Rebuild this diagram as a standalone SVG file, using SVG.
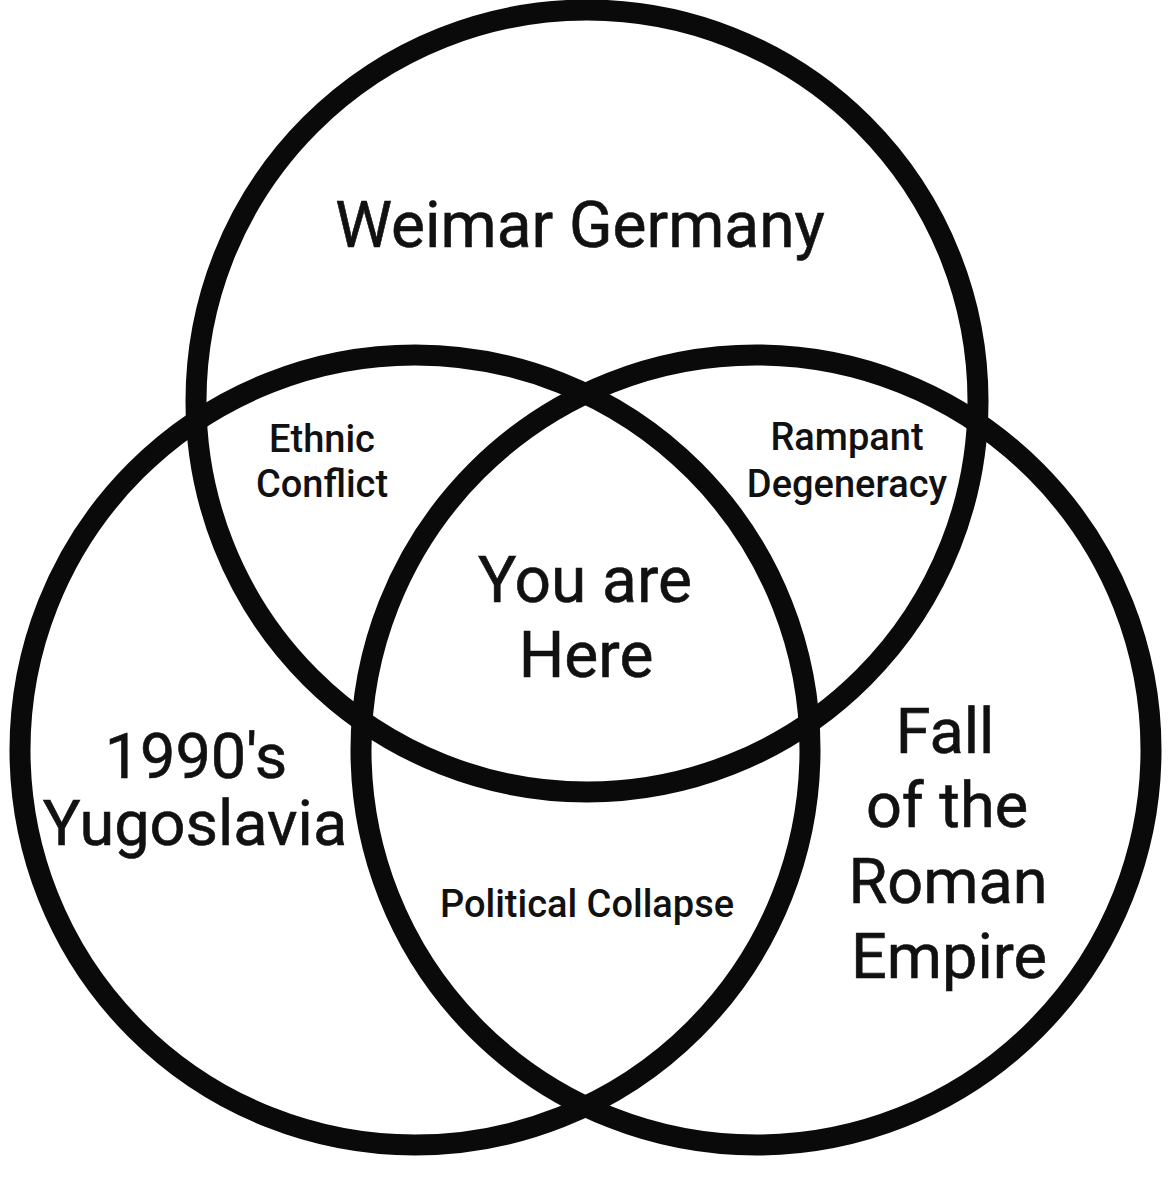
<svg xmlns="http://www.w3.org/2000/svg" width="1170" height="1188" viewBox="0 0 1170 1188">
<style>
.c{fill:none;stroke:#0a0a0a;stroke-width:21}
text{font-family:Roboto,"Liberation Sans",sans-serif;fill:#111;text-anchor:middle}
.big{font-size:64px;stroke:#111;stroke-width:0.6}
.mid{font-size:63px;stroke:#111;stroke-width:0.6}
.sm{font-size:38px;font-weight:500}
</style>
<rect width="1170" height="1188" fill="#ffffff"/>
<g id="connectors"/>
<g id="circle-weimar"><circle class="c" cx="587" cy="401" r="391"/></g>
<g id="circle-yugoslavia"><circle class="c" cx="415" cy="750" r="395"/></g>
<g id="circle-rome"><circle class="c" cx="756" cy="750" r="395"/></g>
<g id="label-weimar"><text class="big" x="580" y="247">Weimar Germany</text></g>
<g id="label-ethnic"><text class="sm" x="322" y="452">Ethnic</text><text class="sm" x="322" y="497">Conflict</text></g>
<g id="label-rampant"><text class="sm" x="847" y="450">Rampant</text><text class="sm" x="847" y="497">Degeneracy</text></g>
<g id="label-here"><text class="big" x="585" y="602">You are</text><text class="big" x="586" y="677">Here</text></g>
<g id="label-yugoslavia"><text class="mid" x="196" y="778">1990's</text><text class="mid" x="195" y="845">Yugoslavia</text></g>
<g id="label-rome"><text class="mid" x="945" y="753">Fall</text><text class="mid" x="947" y="827">of the</text><text class="mid" x="948" y="903">Roman</text><text class="mid" x="949" y="978">Empire</text></g>
<g id="label-political"><text class="sm" x="587" y="917">Political Collapse</text></g>
</svg>
